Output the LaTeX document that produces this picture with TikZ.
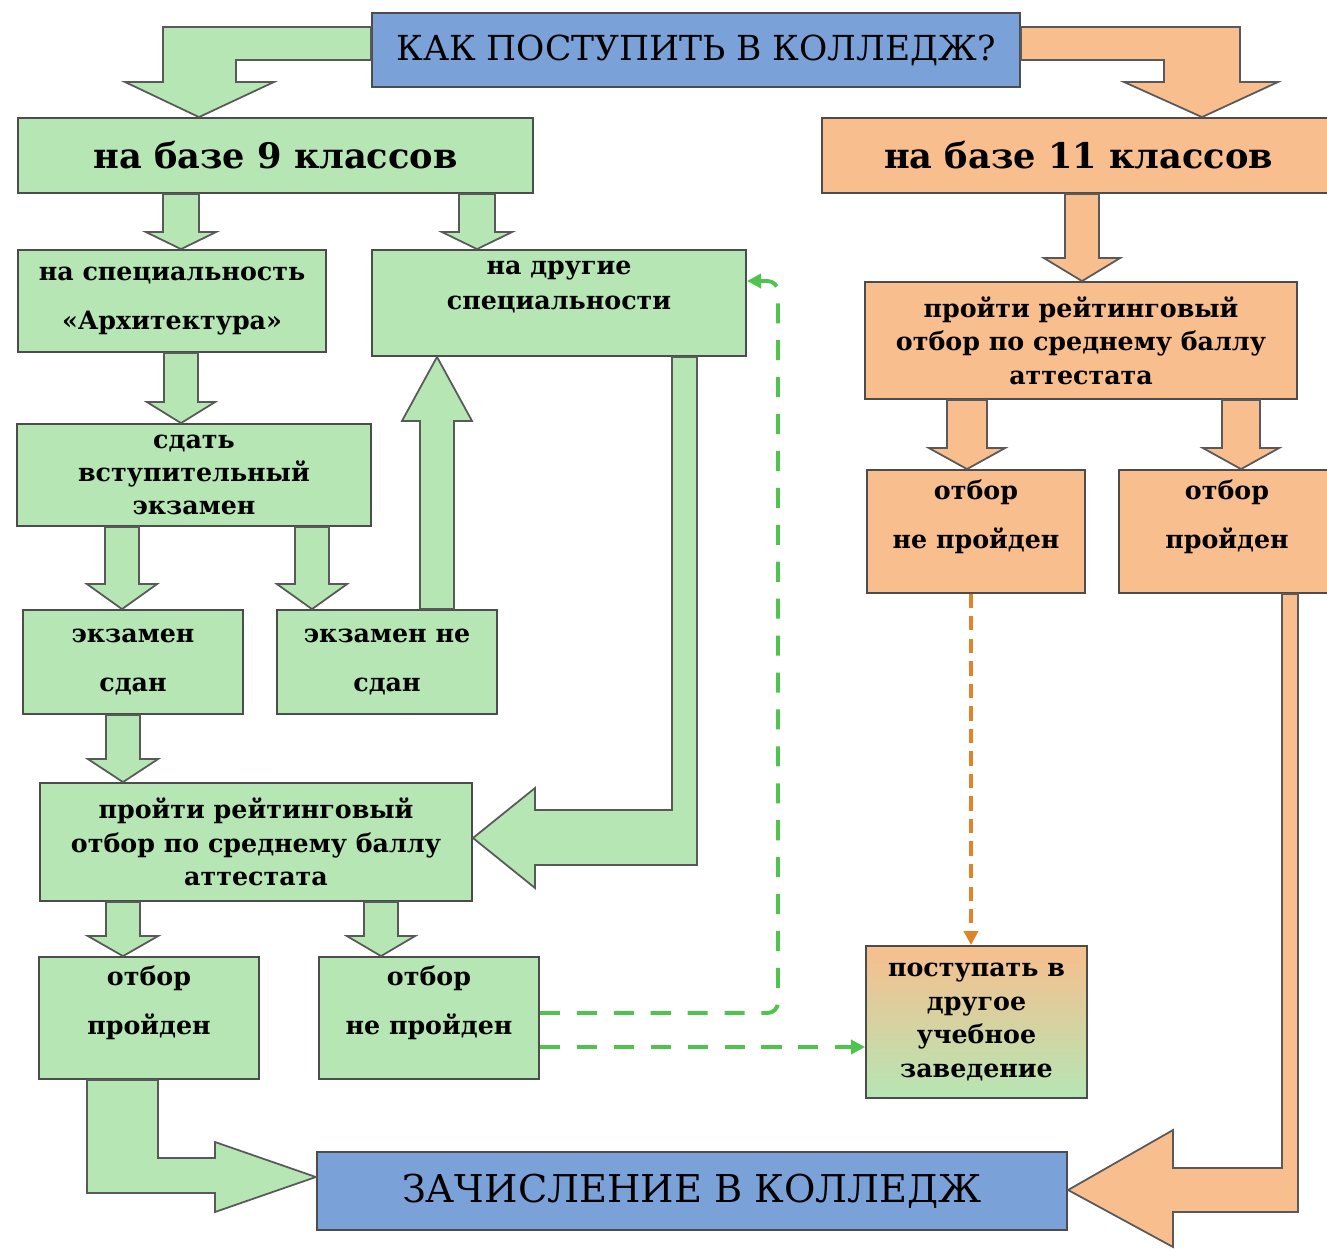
\documentclass[tikz,border=0pt]{standalone}
\usepackage{fontspec}
\setmainfont{DejaVu Serif}
\usetikzlibrary{calc,arrows.meta}

\definecolor{gfill}{RGB}{181,230,180}
\definecolor{ofill}{RGB}{248,190,141}
\definecolor{bfill}{RGB}{122,162,216}
\definecolor{dashgreen}{RGB}{78,196,78}
\definecolor{dashorange}{RGB}{224,132,44}

\tikzset{
  box/.style={draw=black!70, line width=0.5pt, align=center, inner sep=0pt,
    font=\bfseries\fontsize{7.2}{9.5}\selectfont},
  gbox/.style={box, fill=gfill},
  obox/.style={box, fill=ofill},
  bbox/.style={box, fill=bfill, font=\fontsize{9.8}{13}\selectfont},
  raised/.style={text depth=10pt},
  gblock/.style={draw=black!65, line width=0.5pt, fill=gfill},
  oblock/.style={draw=black!65, line width=0.5pt, fill=ofill},
  gdash/.style={color=dashgreen, line width=1.1pt, dash pattern=on 5.7pt off 4.8pt,
    rounded corners=3, -{Triangle[length=4pt,width=4pt]}},
  odash/.style={color=dashorange, line width=1.1pt, dash pattern=on 4pt off 2.4pt,
    -{Triangle[length=4pt,width=4pt]}}
}

% стрелка-блок вниз/вверх: стиль, x, откуда, куда, полуширина, полуширина головки, длина головки
\newcommand{\vblock}[7]{%
  \draw[#1] (#2,0 |- #4) -- ++(-#6,#7) -- ++(#6-#5,0) -- ($(#2,0 |- #3)+(-#5,0)$)
    -- ($(#2,0 |- #3)+(#5,0)$) -- ($(#2,0 |- #4)+(#5,#7)$) -- ++(#6-#5,0) -- cycle;}

\begin{document}
\begin{tikzpicture}[x=0.01cm,y=-0.01cm]
 \useasboundingbox (0,0) rectangle (1327,1248);
 % блоки
 \node[bbox, minimum width=6.48cm, minimum height=0.74cm] (title) at (696,50) {КАК ПОСТУПИТЬ В КОЛЛЕДЖ?};
 \node[gbox, minimum width=5.15cm, minimum height=0.75cm, font=\bfseries\fontsize{10}{13}\selectfont] (b9) at (275.5,155.5) {на базе 9 классов};
 \node[obox, minimum width=5.13cm, minimum height=0.75cm, font=\bfseries\fontsize{10}{13}\selectfont] (b11) at (1078.5,155.5) {на базе 11 классов};
 \node[gbox, minimum width=3.08cm, minimum height=1.02cm] (arch) at (172,301) {на специальность\\[4.5pt]«Архитектура»};
 \node[gbox, raised, minimum width=3.74cm, minimum height=1.06cm] (other) at (559,303) {на другие\\[0.5pt]специальности};
 \node[gbox, minimum width=3.54cm, minimum height=1.02cm] (exam) at (194,475) {сдать\\вступительный\\экзамен};
 \node[gbox, minimum width=2.2cm, minimum height=1.04cm] (passed) at (133,662) {экзамен\\[4.5pt]сдан};
 \node[gbox, minimum width=2.2cm, minimum height=1.04cm] (failed) at (387,662) {экзамен не\\[4.5pt]сдан};
 \node[gbox, minimum width=4.32cm, minimum height=1.18cm] (ratingL) at (256,842) {пройти рейтинговый\\отбор по среднему баллу\\аттестата};
 \node[gbox, raised, minimum width=2.2cm, minimum height=1.22cm] (okL) at (149,1018) {отбор\\[4.5pt]пройден};
 \node[gbox, raised, minimum width=2.2cm, minimum height=1.22cm] (failL) at (429,1018) {отбор\\[4.5pt]не пройден};
 \node[obox, minimum width=4.32cm, minimum height=1.17cm] (ratingR) at (1081,340.5) {пройти рейтинговый\\отбор по среднему баллу\\аттестата};
 \node[obox, raised, minimum width=2.18cm, minimum height=1.23cm] (failR) at (976,531.5) {отбор\\[4.5pt]не пройден};
 \node[obox, raised, minimum width=2.16cm, minimum height=1.23cm] (okR) at (1227,531.5) {отбор\\[4.5pt]пройден};
 \node[box, top color=ofill, bottom color=gfill, minimum width=2.21cm, minimum height=1.52cm] (inst) at (976.5,1022) {поступать в\\другое\\учебное\\заведение};
 \node[bbox, minimum width=7.5cm, minimum height=0.78cm, font=\fontsize{10.9}{14}\selectfont] (enroll) at (692,1191) {ЗАЧИСЛЕНИЕ В КОЛЛЕДЖ};

 % стрелки от заголовка
 \draw[gblock] (title.west |- 0,27) -- (163,27) -- (163,82) -- (125,82) -- (199,0 |- b9.north)
   -- (274,82) -- (236,82) -- (236,60) -- (title.west |- 0,60) -- cycle;
 \draw[oblock] (title.east |- 0,27) -- (1240,27) -- (1240,82) -- (1278,82) -- (1202,0 |- b11.north)
   -- (1124,82) -- (1164,82) -- (1164,60) -- (title.east |- 0,60) -- cycle;

 % прямые стрелки
 \vblock{gblock}{181}{b9.south}{arch.north}{18}{35}{-17}
 \vblock{gblock}{477}{b9.south}{other.north}{18}{35}{-17}
 \vblock{gblock}{181}{arch.south}{exam.north}{17}{34}{-21}
 \vblock{gblock}{122}{exam.south}{passed.north}{17}{35}{-25}
 \vblock{gblock}{312}{exam.south}{failed.north}{17}{35}{-25}
 \vblock{gblock}{437}{failed.north}{other.south}{17}{35}{64}
 \vblock{gblock}{123}{passed.south}{ratingL.north}{17}{35}{-23}
 \vblock{gblock}{123}{ratingL.south}{okL.north}{17}{35}{-20}
 \vblock{gblock}{381}{ratingL.south}{failL.north}{17}{34}{-20}
 \vblock{oblock}{1082}{b11.south}{ratingR.north}{17}{38}{-23}
 \vblock{oblock}{967}{ratingR.south}{failR.north}{20}{38}{-21}
 \vblock{oblock}{1241}{ratingR.south}{okR.north}{19}{38}{-21}

 % угловые стрелки
 \draw[gblock] (672,0 |- other.south) -- (697,0 |- other.south) -- (697,865) -- (535,865) -- (535,888)
   -- (ratingL.east |- 0,838) -- (535,788) -- (535,810) -- (672,810) -- cycle;
 \draw[gblock] (87,0 |- okL.south) -- (87,1193) -- (215,1193) -- (215,1212) -- (enroll.west |- 0,1177)
   -- (215,1142) -- (215,1158) -- (158,1158) -- (158,0 |- okL.south) -- cycle;
 \draw[oblock] (1298,0 |- okR.south) -- (1298,1212) -- (1173,1212) -- (1173,1247) -- (enroll.east |- 0,1190)
   -- (1173,1130) -- (1173,1168) -- (1282,1168) -- (1282,0 |- okR.south) -- cycle;

 % пунктир
 \draw[gdash] (failL.east |- 0,1013) -- (778,1013) -- (778,281) -- (other.east |- 0,281);
 \draw[gdash] (failL.east |- 0,1047) -- (inst.west |- 0,1047);
 \draw[odash] (971,0 |- failR.south) -- (971,0 |- inst.north);
\end{tikzpicture}
\end{document}
